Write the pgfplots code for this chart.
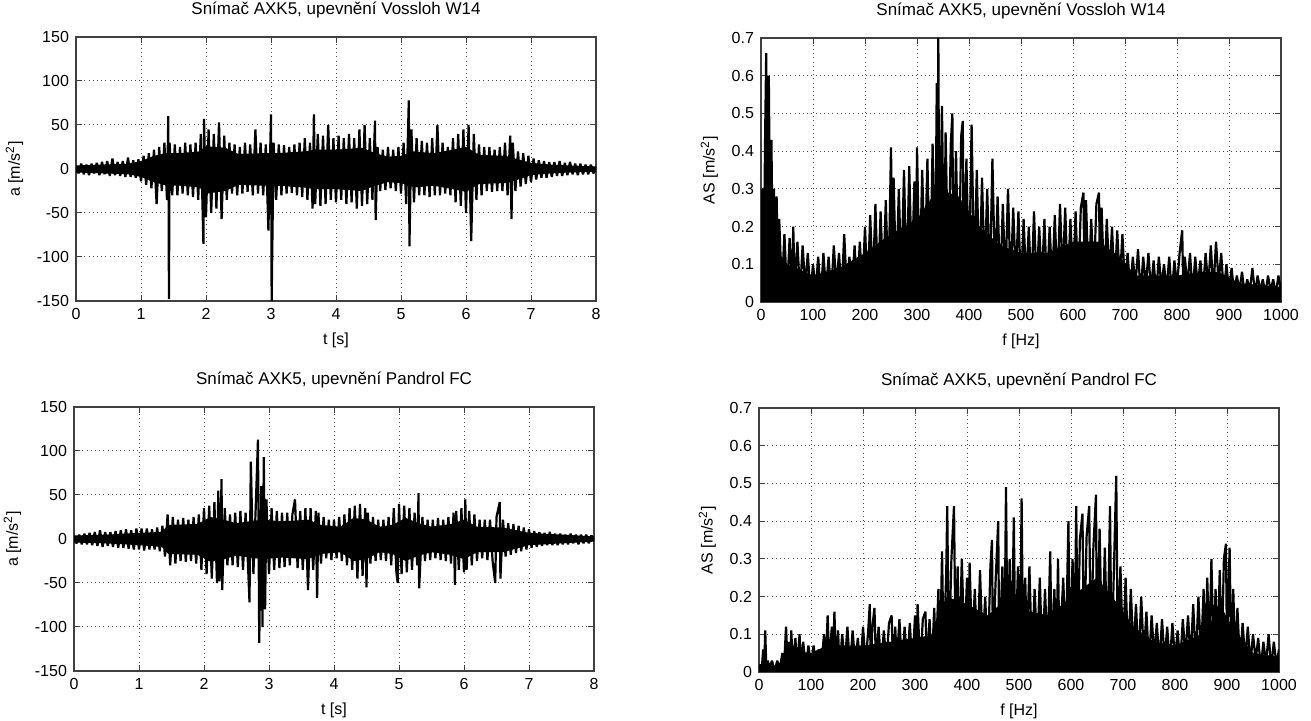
\documentclass[border=0pt]{standalone}
\usepackage{fontspec}
\setmainfont{Liberation Sans}
\usepackage{pgfplots}
\pgfplotsset{compat=1.18}

\pgfplotsset{
  matlab/.style={
    scale only axis, width=260pt, height=132pt,
    font=\fontsize{8}{9.6}\selectfont,
    axis line style={line width=0.6pt, black!75},
    every tick/.style={black!75, line width=0.5pt},
    major tick length=2.8pt,
    tick align=inside,
    grid=major,
    major grid style={black!70, line width=0.5pt, dash pattern=on 0.5pt off 1.6pt},
    /pgf/number format/assume math mode=true,
    /pgf/number format/1000 sep={},
    title style={font=\fontsize{8.5}{10}\selectfont},
  },
  sig/.style={matlab, xmin=0, xmax=8, ymin=-150, ymax=150,
    xtick={0,1,...,8}, ytick={-150,-100,-50,0,50,100,150},
    xlabel={t [s]}, ylabel={a [m/s\textsuperscript{2}]}},
  spec/.style={matlab, xmin=0, xmax=1000, ymin=0, ymax=0.7,
    xtick={0,100,...,1000}, ytick={0,0.1,0.2,0.3,0.4,0.5,0.6,0.7},
    yticklabel style={/pgf/number format/fixed, /pgf/number format/precision=1},
    xlabel={f [Hz]}, ylabel={AS [m/s\textsuperscript{2}]}},
  trace/.style={black, no markers, line width=1.1pt, line join=bevel},
  core/.style={fill=black, draw=none, no markers},
}

\begin{document}
\begin{tikzpicture}
\path[use as bounding box] (0,0) rectangle (655.5pt,360.5pt);

% Vossloh W14, time signal
\begin{axis}[sig, at={(38pt,210pt)}, anchor=south west,
  title={Snímač AXK5, upevnění Vossloh W14}]
% dense core of the signal (upper edge, then lower edge back)
\addplot[core] coordinates {
(0,4) (0.4,5) (0.8,6) (1.0,9) (1.2,15) (1.4,18) (1.6,18) (1.9,20) (2.0,26) (2.3,24) (2.5,17)
(2.9,18) (3.1,18) (3.5,20) (3.7,22) (4.0,22) (4.4,24) (4.6,18) (4.8,14) (5.0,15) (5.2,20) (5.5,18)
(5.8,22) (6.0,25) (6.2,16) (6.6,15) (6.8,11) (7.0,7) (7.3,5) (7.6,4) (8,3)
(8,-3) (7.6,-4) (7.3,-5) (7.0,-7) (6.8,-12) (6.6,-16) (6.2,-17) (6.0,-26) (5.8,-23) (5.5,-19)
(5.2,-21) (5.0,-16) (4.8,-15) (4.6,-19) (4.4,-25) (4.0,-23) (3.7,-23) (3.5,-21) (3.1,-19) (2.9,-19)
(2.5,-18) (2.3,-25) (2.0,-28) (1.9,-21) (1.6,-19) (1.4,-19) (1.2,-15) (1.0,-9) (0.8,-6) (0.4,-5) (0,-4)
};
\addplot[trace] coordinates {
(0.00,3) (0.04,-5) (0.08,6) (0.12,-6) (0.16,5) (0.20,-7) (0.24,6) (0.28,-5) (0.32,7) (0.36,-7)
(0.40,8) (0.44,-6) (0.48,9) (0.52,-8) (0.56,12) (0.60,-7) (0.64,8) (0.68,-8) (0.72,9) (0.76,-9)
(0.80,13) (0.84,-9) (0.88,10) (0.92,-10) (0.96,11) (1.00,-14) (1.04,15) (1.08,-18) (1.12,18) (1.16,-22)
(1.20,22) (1.24,-40) (1.28,25) (1.32,-25) (1.36,30) (1.40,-35) (1.42,60) (1.43,-148) (1.44,30) (1.48,-30)
(1.52,28) (1.56,-30) (1.60,25) (1.64,-28) (1.68,30) (1.72,-30) (1.76,28) (1.80,-32) (1.84,30) (1.88,-35)
(1.92,40) (1.96,-85) (1.97,57) (2.00,-55) (2.04,45) (2.08,-50) (2.12,40) (2.16,-45) (2.20,53) (2.24,-57)
(2.28,38) (2.32,-35) (2.36,30) (2.40,-28) (2.44,28) (2.48,-30) (2.52,25) (2.56,-28) (2.60,30) (2.64,-26)
(2.68,28) (2.72,-30) (2.76,45) (2.80,-28) (2.84,30) (2.88,-30) (2.92,28) (2.96,-70) (3.00,62) (3.01,-150)
(3.04,30) (3.08,-35) (3.12,28) (3.16,-30) (3.20,27) (3.24,-28) (3.28,25) (3.32,-27) (3.36,28) (3.40,-30)
(3.44,30) (3.48,-32) (3.52,35) (3.56,-35) (3.60,30) (3.64,-45) (3.66,62) (3.68,-40) (3.72,40) (3.76,-42)
(3.80,38) (3.84,-40) (3.88,50) (3.92,-35) (3.96,35) (4.00,-38) (4.04,38) (4.08,-35) (4.12,35) (4.16,-40)
(4.20,40) (4.24,-38) (4.28,35) (4.32,-45) (4.36,45) (4.40,-42) (4.44,50) (4.48,-40) (4.52,35) (4.56,-35)
(4.60,55) (4.61,-58) (4.64,25) (4.68,-25) (4.72,22) (4.76,-24) (4.80,25) (4.84,-22) (4.88,22) (4.92,-25)
(4.96,25) (5.00,-28) (5.04,30) (5.08,-40) (5.12,78) (5.13,-88) (5.16,45) (5.20,-38) (5.24,35) (5.28,-30)
(5.32,32) (5.36,-30) (5.40,30) (5.44,-32) (5.48,35) (5.52,-30) (5.56,50) (5.60,-30) (5.64,30) (5.68,-28)
(5.72,25) (5.76,-30) (5.80,35) (5.84,-38) (5.88,40) (5.92,-42) (5.96,45) (6.00,-50) (6.04,50) (6.08,-82)
(6.12,40) (6.16,-35) (6.20,28) (6.24,-30) (6.28,25) (6.32,-25) (6.36,25) (6.40,-26) (6.44,22) (6.48,-25)
(6.52,25) (6.56,-25) (6.60,30) (6.64,-30) (6.68,38) (6.70,-57) (6.72,30) (6.76,-25) (6.80,20) (6.84,-20)
(6.88,18) (6.92,-17) (6.96,15) (7.00,-15) (7.04,12) (7.08,-12) (7.12,10) (7.16,-10) (7.20,9) (7.24,-10)
(7.28,8) (7.32,-9) (7.36,8) (7.40,-8) (7.44,9) (7.48,-8) (7.52,7) (7.56,-7) (7.60,8) (7.64,-6)
(7.68,6) (7.72,-7) (7.76,6) (7.80,-6) (7.84,5) (7.88,-6) (7.92,5) (7.96,-5) (8.00,2)
};
\end{axis}

% Vossloh W14, spectrum
\begin{axis}[spec, at={(380.5pt,209.5pt)}, anchor=south west,
  title={Snímač AXK5, upevnění Vossloh W14}]
\addplot[core] coordinates {
(0,0) (2,0.25) (10,0.35) (20,0.28) (30,0.14) (50,0.10) (100,0.07) (150,0.09) (200,0.13) (250,0.18)
(300,0.22) (340,0.30) (380,0.28) (420,0.20) (460,0.15) (500,0.13) (550,0.13) (600,0.16) (650,0.16)
(690,0.12) (720,0.07) (800,0.07) (850,0.08) (880,0.08) (920,0.05) (1000,0.04)
} \closedcycle;
\addplot[trace] coordinates {
(0,0.02) (2,0.30) (5,0.05) (8,0.45) (10,0.66) (12,0.08) (15,0.60) (18,0.10) (20,0.43) (23,0.06)
(25,0.30) (28,0.05) (30,0.28) (33,0.04) (35,0.22) (40,0.03) (45,0.18) (50,0.02) (55,0.17) (60,0.04)
(62,0.20) (65,0.03) (70,0.16) (75,0.02) (80,0.15) (85,0.04) (90,0.13) (95,0.02) (100,0.10) (105,0.03)
(110,0.12) (115,0.01) (120,0.13) (125,0.03) (130,0.12) (135,0.02) (140,0.15) (145,0.04) (150,0.13) (155,0.02)
(160,0.18) (165,0.03) (170,0.12) (175,0.04) (180,0.15) (185,0.02) (190,0.16) (195,0.03) (200,0.20) (205,0.02)
(210,0.23) (215,0.04) (220,0.26) (225,0.03) (230,0.24) (235,0.05) (240,0.27) (245,0.02) (250,0.41) (253,0.06)
(255,0.33) (260,0.04) (265,0.30) (270,0.06) (275,0.35) (280,0.03) (285,0.36) (290,0.07) (295,0.32) (298,0.05)
(300,0.41) (305,0.04) (310,0.35) (315,0.08) (320,0.38) (325,0.03) (330,0.42) (335,0.06) (338,0.58) (340,0.03)
(341,0.70) (343,0.08) (348,0.52) (352,0.05) (355,0.45) (360,0.07) (365,0.42) (368,0.50) (370,0.06) (375,0.40)
(380,0.04) (385,0.44) (388,0.48) (390,0.09) (395,0.38) (400,0.05) (405,0.47) (410,0.06) (415,0.35) (420,0.03)
(425,0.33) (430,0.07) (435,0.30) (440,0.04) (445,0.38) (450,0.06) (455,0.28) (460,0.03) (465,0.26) (470,0.05)
(475,0.30) (480,0.04) (485,0.25) (490,0.06) (495,0.24) (500,0.03) (505,0.22) (510,0.05) (515,0.20) (520,0.03)
(525,0.24) (530,0.04) (535,0.20) (540,0.05) (545,0.22) (550,0.03) (555,0.20) (560,0.05) (565,0.23) (570,0.03)
(575,0.26) (580,0.06) (585,0.25) (590,0.04) (595,0.22) (600,0.05) (605,0.24) (610,0.03) (615,0.25) (620,0.29)
(622,0.06) (625,0.27) (630,0.04) (635,0.22) (640,0.06) (645,0.26) (650,0.29) (652,0.05) (655,0.25) (660,0.04)
(665,0.22) (670,0.06) (675,0.20) (680,0.03) (685,0.19) (690,0.05) (695,0.18) (700,0.04) (705,0.13) (710,0.03)
(715,0.12) (720,0.04) (725,0.14) (730,0.02) (735,0.12) (740,0.04) (745,0.13) (750,0.03) (755,0.11) (760,0.02)
(765,0.12) (770,0.04) (775,0.10) (780,0.03) (785,0.12) (790,0.02) (795,0.11) (800,0.04) (805,0.13) (810,0.19)
(812,0.03) (815,0.12) (820,0.04) (825,0.13) (830,0.02) (835,0.12) (840,0.04) (845,0.11) (850,0.03) (855,0.13)
(860,0.04) (865,0.15) (870,0.03) (875,0.16) (880,0.05) (885,0.13) (890,0.02) (895,0.10) (900,0.03) (905,0.09)
(910,0.02) (915,0.07) (920,0.03) (925,0.08) (930,0.02) (935,0.06) (940,0.03) (945,0.09) (950,0.02) (955,0.07)
(960,0.03) (965,0.06) (970,0.02) (975,0.07) (980,0.03) (985,0.06) (990,0.02) (995,0.07) (1000,0.03)
};
\end{axis}

% Pandrol FC, time signal
\begin{axis}[sig, at={(37pt,25pt)}, anchor=south west,
  title={Snímač AXK5, upevnění Pandrol FC}]
\addplot[core] coordinates {
(0,4) (0.5,5) (1.0,7) (1.35,8) (1.45,16) (1.9,17) (2.1,25) (2.3,22) (2.5,18) (2.9,22) (3.2,20)
(3.6,22) (3.8,16) (4.1,14) (4.3,24) (4.5,22) (4.7,14) (4.9,16) (5.1,24) (5.3,18) (5.5,14) (5.8,17)
(6.0,22) (6.2,14) (6.6,13) (6.8,10) (7.0,7) (7.5,5) (8,3)
(8,-3) (7.5,-5) (7.0,-7) (6.8,-11) (6.6,-15) (6.2,-15) (6.0,-23) (5.8,-18) (5.5,-15) (5.3,-19)
(5.1,-25) (4.9,-17) (4.7,-15) (4.5,-23) (4.3,-25) (4.1,-15) (3.8,-17) (3.6,-23) (3.2,-21) (2.9,-23)
(2.5,-19) (2.3,-23) (2.1,-26) (1.9,-18) (1.45,-17) (1.35,-9) (1.0,-7) (0.5,-5) (0,-4)
};
\addplot[trace] coordinates {
(0.00,2) (0.04,-5) (0.08,5) (0.12,-6) (0.16,6) (0.20,-6) (0.24,7) (0.28,-7) (0.32,8) (0.36,-8)
(0.40,10) (0.44,-9) (0.48,8) (0.52,-8) (0.56,8) (0.60,-9) (0.64,9) (0.68,-10) (0.72,10) (0.76,-10)
(0.80,11) (0.84,-11) (0.88,10) (0.92,-12) (0.96,12) (1.00,-12) (1.04,12) (1.08,-13) (1.12,12) (1.16,-12)
(1.20,11) (1.24,-12) (1.28,13) (1.32,-14) (1.36,15) (1.40,-20) (1.44,28) (1.48,-30) (1.52,25) (1.56,-28)
(1.60,22) (1.64,-25) (1.68,24) (1.72,-26) (1.76,22) (1.80,-25) (1.84,25) (1.88,-28) (1.92,28) (1.96,-35)
(2.00,35) (2.04,-40) (2.08,38) (2.12,-45) (2.16,42) (2.20,-50) (2.22,55) (2.24,-48) (2.27,68) (2.28,-58)
(2.32,35) (2.36,-30) (2.40,28) (2.44,-30) (2.48,30) (2.52,-32) (2.56,32) (2.60,-35) (2.64,30) (2.68,-35)
(2.70,-72) (2.72,88) (2.76,-40) (2.80,45) (2.83,113) (2.85,-118) (2.88,60) (2.90,-100) (2.92,93) (2.94,-80)
(2.96,45) (3.00,-40) (3.04,35) (3.08,-35) (3.12,32) (3.16,-33) (3.20,30) (3.24,-32) (3.28,30) (3.32,-30)
(3.36,28) (3.40,45) (3.44,-33) (3.48,32) (3.52,-35) (3.56,35) (3.60,-58) (3.64,35) (3.68,-35) (3.72,32)
(3.74,-67) (3.76,30) (3.80,-28) (3.84,25) (3.88,-22) (3.92,22) (3.96,-24) (4.00,22) (4.04,-22) (4.08,25)
(4.12,-25) (4.16,28) (4.20,-30) (4.24,35) (4.28,-35) (4.32,38) (4.36,-45) (4.40,40) (4.44,-42) (4.48,35)
(4.50,-55) (4.52,30) (4.56,-28) (4.60,25) (4.64,-25) (4.68,22) (4.72,-24) (4.76,22) (4.80,-25) (4.84,25)
(4.88,-30) (4.92,35) (4.96,-38) (4.98,-50) (5.00,40) (5.04,-40) (5.08,38) (5.12,-38) (5.16,35) (5.20,-35)
(5.24,30) (5.28,-30) (5.30,52) (5.31,-56) (5.36,25) (5.40,-25) (5.44,22) (5.48,-24) (5.52,22) (5.56,-22)
(5.60,24) (5.64,-24) (5.68,22) (5.72,-25) (5.76,25) (5.80,-28) (5.84,30) (5.86,-52) (5.88,32) (5.92,-35)
(5.96,35) (6.00,-38) (6.02,45) (6.04,-35) (6.08,32) (6.12,-30) (6.16,28) (6.20,-25) (6.24,22) (6.28,-22)
(6.32,22) (6.36,-24) (6.40,22) (6.44,-25) (6.48,-50) (6.50,25) (6.55,42) (6.56,-45) (6.60,22) (6.64,-20)
(6.68,18) (6.72,-18) (6.76,17) (6.80,-16) (6.84,15) (6.88,-14) (6.92,13) (6.96,-12) (7.00,11) (7.04,-10)
(7.08,9) (7.12,-9) (7.16,8) (7.20,-8) (7.24,7) (7.28,-7) (7.32,8) (7.36,-7) (7.40,6) (7.44,-7)
(7.48,6) (7.52,-6) (7.56,5) (7.60,-6) (7.64,6) (7.68,-5) (7.72,5) (7.76,-6) (7.80,5) (7.84,-5)
(7.88,5) (7.92,-5) (7.96,4) (8.00,-2)
};
\end{axis}

% Pandrol FC, spectrum
\begin{axis}[spec, at={(379.5pt,24.5pt)}, anchor=south west,
  title={Snímač AXK5, upevnění Pandrol FC}]
\addplot[core] coordinates {
(0,0.01) (40,0.02) (50,0.06) (100,0.05) (130,0.07) (160,0.07) (200,0.07) (250,0.08) (300,0.09)
(340,0.10) (360,0.20) (400,0.18) (440,0.15) (480,0.20) (520,0.16) (560,0.15) (600,0.20) (650,0.25)
(690,0.18) (720,0.12) (760,0.08) (800,0.07) (850,0.10) (890,0.17) (910,0.12) (950,0.05) (1000,0.04)
} \closedcycle;
\addplot[trace] coordinates {
(0,0.01) (3,0.02) (5,0.00) (8,0.06) (10,0.01) (12,0.11) (14,0.01) (17,0.03) (20,0.01) (25,0.03)
(30,0.00) (35,0.03) (40,0.01) (45,0.05) (48,0.01) (52,0.12) (55,0.02) (58,0.08) (60,0.01) (62,0.11)
(65,0.02) (70,0.09) (73,0.01) (78,0.10) (80,0.02) (85,0.08) (90,0.01) (95,0.07) (100,0.02) (105,0.07)
(110,0.01) (115,0.06) (120,0.02) (125,0.10) (128,0.01) (132,0.15) (135,0.02) (140,0.12) (142,0.01) (145,0.16)
(148,0.02) (152,0.11) (155,0.01) (160,0.10) (165,0.02) (170,0.12) (175,0.01) (180,0.11) (185,0.02) (190,0.09)
(195,0.01) (200,0.12) (205,0.02) (210,0.11) (213,0.18) (215,0.01) (218,0.12) (222,0.17) (225,0.02) (230,0.12)
(235,0.01) (240,0.11) (245,0.02) (250,0.13) (255,0.15) (258,0.01) (262,0.12) (265,0.02) (270,0.14) (275,0.01)
(280,0.12) (285,0.02) (290,0.13) (295,0.01) (300,0.15) (303,0.02) (305,0.18) (310,0.01) (315,0.14) (320,0.16)
(323,0.02) (328,0.14) (332,0.01) (337,0.17) (340,0.03) (345,0.22) (348,0.02) (352,0.32) (355,0.04) (360,0.26)
(362,0.44) (365,0.03) (370,0.30) (375,0.44) (378,0.05) (382,0.28) (385,0.03) (390,0.30) (395,0.06) (400,0.25)
(403,0.02) (405,0.29) (410,0.05) (415,0.22) (420,0.03) (425,0.27) (430,0.06) (435,0.20) (440,0.02) (445,0.28)
(448,0.35) (450,0.04) (455,0.24) (460,0.40) (462,0.03) (468,0.28) (472,0.05) (475,0.49) (478,0.02) (482,0.30)
(486,0.05) (490,0.41) (493,0.03) (498,0.28) (502,0.05) (505,0.46) (508,0.03) (512,0.25) (515,0.06) (520,0.28)
(525,0.03) (530,0.22) (535,0.05) (540,0.25) (545,0.02) (550,0.22) (555,0.04) (560,0.32) (563,0.03) (568,0.22)
(572,0.05) (575,0.30) (578,0.03) (585,0.25) (590,0.05) (595,0.40) (598,0.03) (603,0.30) (607,0.06) (610,0.44)
(613,0.04) (617,0.35) (622,0.42) (625,0.05) (630,0.36) (635,0.44) (638,0.04) (643,0.33) (648,0.47) (650,0.06)
(655,0.38) (660,0.03) (665,0.33) (670,0.05) (675,0.44) (678,0.02) (683,0.30) (687,0.52) (690,0.04) (695,0.28)
(700,0.05) (705,0.25) (710,0.03) (715,0.22) (720,0.05) (725,0.18) (730,0.02) (735,0.20) (740,0.04) (745,0.16)
(750,0.02) (755,0.15) (760,0.04) (765,0.13) (770,0.02) (775,0.14) (780,0.03) (785,0.12) (790,0.02) (795,0.13)
(800,0.03) (805,0.11) (810,0.02) (815,0.14) (820,0.04) (825,0.15) (830,0.03) (835,0.18) (840,0.02) (845,0.20)
(850,0.04) (855,0.22) (858,0.03) (862,0.25) (866,0.05) (870,0.30) (874,0.04) (878,0.22) (882,0.05) (886,0.27)
(890,0.04) (894,0.30) (898,0.34) (900,0.05) (905,0.33) (908,0.04) (912,0.22) (916,0.03) (920,0.17) (925,0.02)
(930,0.13) (935,0.03) (940,0.12) (945,0.02) (950,0.10) (955,0.03) (960,0.09) (965,0.01) (970,0.08) (975,0.02)
(980,0.10) (985,0.01) (990,0.08) (995,0.02) (1000,0.06)
};
\end{axis}
\end{tikzpicture}
\end{document}
